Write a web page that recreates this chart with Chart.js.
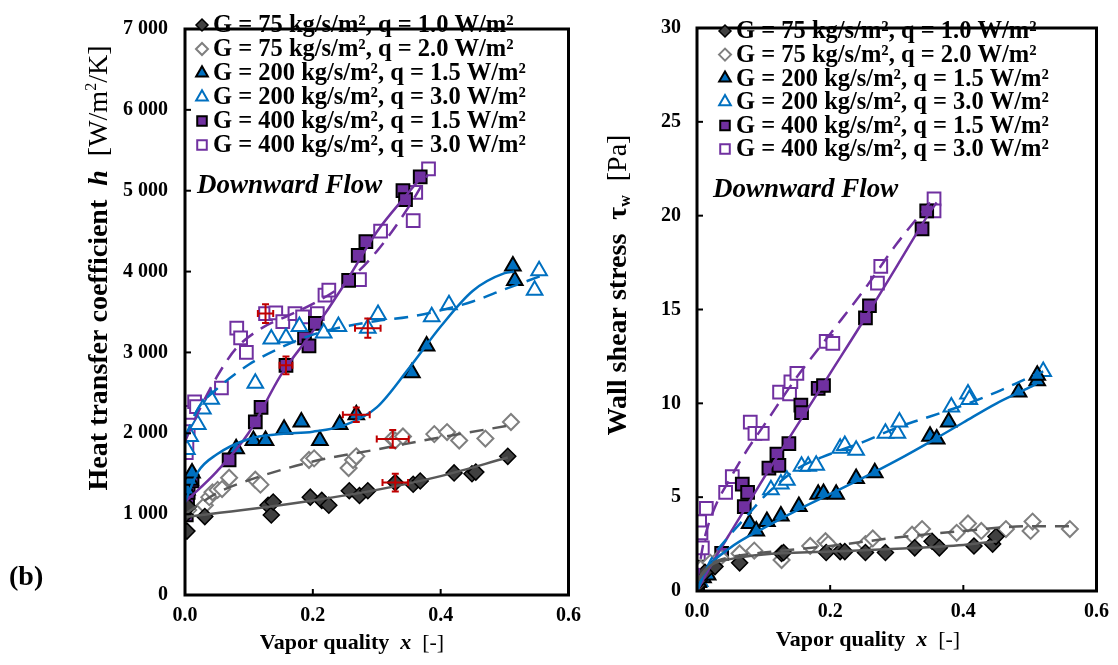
<!DOCTYPE html>
<html>
<head>
<meta charset="utf-8">
<script src="https://cdn.jsdelivr.net/npm/chart.js@4/dist/chart.umd.min.js"></script>
<style>
  html, body { margin: 0; padding: 0; background: #fff; }
  #wrap { position: relative; width: 1118px; height: 665px; overflow: hidden; }
  #hChart { position: absolute; left: 0; top: 0; }
  #tChart { position: absolute; left: 590px; top: 0; }
</style>
</head>
<body>
<div id="wrap">
  <canvas id="hChart" width="590" height="665"></canvas>
  <canvas id="tChart" width="528" height="665"></canvas>
</div>
<script>
// ---------- Series labels ----------
const seriesLabels = [
  'G = 75 kg/s/m², q = 1.0 W/m²',
  'G = 75 kg/s/m², q = 2.0 W/m²',
  'G = 200 kg/s/m², q = 1.5 W/m²',
  'G = 200 kg/s/m², q = 3.0 W/m²',
  'G = 400 kg/s/m², q = 1.5 W/m²',
  'G = 400 kg/s/m², q = 3.0 W/m²'
];

// ---------- Axis ticks ----------
const xTicks = [0, 0.2, 0.4, 0.6];
const hTicks = [0, 1000, 2000, 3000, 4000, 5000, 6000, 7000];
const tauTicks = [0, 5, 10, 15, 20, 25, 30];

// ---------- Heat transfer coefficient h [W/m²/K] vs vapor quality x ----------
const hX_75_10 = [0.000, 0.003, 0.005, 0.031, 0.130, 0.135, 0.138, 0.196, 0.214, 0.225, 0.257, 0.273, 0.286, 0.329, 0.357, 0.368, 0.421, 0.449, 0.455, 0.505];
const hY_75_10 = [990, 790, 1090, 970, 1110, 990, 1150, 1210, 1170, 1110, 1290, 1230, 1290, 1390, 1370, 1410, 1510, 1500, 1520, 1715];

const hX_75_20 = [0.005, 0.031, 0.038, 0.043, 0.051, 0.058, 0.069, 0.110, 0.118, 0.194, 0.202, 0.256, 0.263, 0.268, 0.325, 0.329, 0.341, 0.390, 0.410, 0.429, 0.470, 0.510];
const hY_75_20 = [1050, 1110, 1210, 1270, 1300, 1310, 1450, 1425, 1365, 1670, 1690, 1570, 1670, 1715, 1930, 1910, 1960, 1990, 2015, 1910, 1935, 2140];

const hX_200_15 = [0.003, 0.008, 0.011, 0.080, 0.107, 0.126, 0.155, 0.182, 0.211, 0.242, 0.268, 0.355, 0.378, 0.513, 0.516];
const hY_200_15 = [1300, 1420, 1510, 1810, 1910, 1910, 2050, 2140, 1910, 2110, 2230, 2750, 3080, 4070, 3890];

const hX_200_30 = [0.003, 0.008, 0.020, 0.028, 0.041, 0.110, 0.135, 0.158, 0.179, 0.217, 0.240, 0.286, 0.302, 0.386, 0.413, 0.547, 0.554];
const hY_200_30 = [1800, 1960, 2110, 2300, 2420, 2620, 3165, 3180, 3320, 3240, 3320, 3300, 3470, 3440, 3590, 3770, 4010];

const hX_400_15 = [0.002, 0.003, 0.004, 0.005, 0.011, 0.069, 0.110, 0.119, 0.158, 0.187, 0.194, 0.204, 0.256, 0.271, 0.283, 0.341, 0.345, 0.368];
const hY_400_15 = [990, 1110, 1200, 1270, 1410, 1670, 2140, 2320, 2840, 3180, 3080, 3360, 3890, 4200, 4370, 5000, 4890, 5170];

const hX_400_30 = [0.002, 0.003, 0.005, 0.008, 0.015, 0.018, 0.057, 0.081, 0.087, 0.096, 0.126, 0.142, 0.153, 0.172, 0.184, 0.207, 0.219, 0.225, 0.273, 0.306, 0.357, 0.361, 0.381];
const hY_400_30 = [1760, 1850, 2020, 2260, 2390, 2330, 2560, 3300, 3180, 3000, 3480, 3490, 3380, 3480, 3440, 3480, 3710, 3770, 3900, 4500, 4630, 4980, 5270];

// Trend curves for h
const hFitX_75_10 = [0, 0.1, 0.2, 0.3, 0.4, 0.505];
const hFitY_75_10 = [966, 1060, 1170, 1300, 1470, 1700];
const hFitX_75_20 = [0, 0.05, 0.1, 0.2, 0.3, 0.4, 0.51];
const hFitY_75_20 = [1000, 1260, 1420, 1650, 1800, 1950, 2100];
const hFitX_200_15 = [0, 0.02, 0.05, 0.1, 0.15, 0.2, 0.25, 0.3, 0.35, 0.4, 0.45, 0.5, 0.515];
const hFitY_200_15 = [1150, 1520, 1740, 1930, 1990, 2020, 2100, 2320, 2800, 3320, 3760, 3980, 4000];
const hFitX_200_30 = [0, 0.02, 0.05, 0.1, 0.15, 0.2, 0.25, 0.3, 0.35, 0.4, 0.45, 0.5, 0.555];
const hFitY_200_30 = [1950, 2300, 2550, 2850, 3060, 3220, 3320, 3390, 3440, 3520, 3630, 3780, 3940];
const hFitX_400_15 = [0, 0.05, 0.1, 0.15, 0.2, 0.25, 0.3, 0.35, 0.375];
const hFitY_400_15 = [1150, 1530, 2010, 2720, 3260, 3850, 4490, 4980, 5220];
const hFitX_400_30 = [0, 0.02, 0.05, 0.08, 0.12, 0.16, 0.2, 0.25, 0.3, 0.35, 0.38];
const hFitY_400_30 = [1900, 2250, 2700, 3050, 3300, 3450, 3600, 3850, 4250, 4800, 5200];

// Uncertainty bars on h: centre x, centre h, ±x, ±h
const hErrX = [0.126, 0.158, 0.268, 0.286, 0.325, 0.329];
const hErrY = [3480, 2840, 2230, 3300, 1930, 1390];
const hErrDX = [0.012, 0.010, 0.021, 0.020, 0.025, 0.020];
const hErrDY = [115, 110, 90, 120, 110, 110];

// ---------- Wall shear stress τw [Pa] vs vapor quality x ----------
const tX_75_10 = [0.001, 0.004, 0.012, 0.027, 0.064, 0.127, 0.130, 0.194, 0.215, 0.222, 0.253, 0.283, 0.327, 0.353, 0.364, 0.416, 0.444, 0.449];
const tY_75_10 = [0.3, 0.6, 1.0, 1.3, 1.5, 2.0, 2.05, 2.05, 2.1, 2.1, 2.05, 2.05, 2.3, 2.65, 2.3, 2.4, 2.5, 2.9];

const tX_75_20 = [0.006, 0.020, 0.035, 0.064, 0.086, 0.127, 0.170, 0.193, 0.197, 0.253, 0.264, 0.323, 0.338, 0.390, 0.407, 0.427, 0.464, 0.501, 0.504, 0.560];
const tY_75_20 = [1.2, 1.5, 1.8, 2.0, 2.15, 1.65, 2.4, 2.65, 2.5, 2.5, 2.8, 3.0, 3.3, 3.1, 3.6, 3.2, 3.3, 3.2, 3.7, 3.3];

const tX_200_15 = [0.002, 0.009, 0.016, 0.079, 0.089, 0.105, 0.126, 0.153, 0.182, 0.190, 0.209, 0.239, 0.267, 0.350, 0.360, 0.378, 0.483, 0.511, 0.511];
const tY_200_15 = [0.45, 0.7, 0.85, 3.6, 3.2, 3.7, 4.0, 4.5, 5.15, 5.2, 5.15, 6.0, 6.3, 8.25, 8.1, 9.0, 10.6, 11.2, 11.5];

const tX_200_30 = [0.000, 0.004, 0.011, 0.111, 0.126, 0.135, 0.157, 0.167, 0.179, 0.215, 0.222, 0.239, 0.283, 0.301, 0.304, 0.382, 0.407, 0.409, 0.520];
const tY_200_30 = [0.0, 0.5, 1.0, 5.4, 5.7, 5.9, 6.65, 6.65, 6.7, 7.6, 7.75, 7.5, 8.4, 8.4, 9.0, 9.8, 10.5, 10.2, 11.7];

const tX_400_15 = [0.001, 0.006, 0.009, 0.037, 0.068, 0.071, 0.076, 0.108, 0.120, 0.123, 0.138, 0.156, 0.157, 0.182, 0.190, 0.253, 0.259, 0.338, 0.345];
const tY_400_15 = [0.45, 1.27, 0.95, 2.0, 5.7, 4.5, 5.25, 6.55, 7.3, 6.7, 7.85, 9.9, 9.5, 10.8, 10.95, 14.55, 15.2, 19.3, 20.25];

const tX_400_30 = [0.002, 0.003, 0.004, 0.006, 0.008, 0.014, 0.043, 0.053, 0.080, 0.087, 0.098, 0.124, 0.139, 0.141, 0.150, 0.194, 0.204, 0.271, 0.276, 0.356, 0.356];
const tY_400_30 = [1.9, 2.7, 3.7, 3.1, 2.3, 4.4, 5.25, 6.1, 9.0, 8.4, 8.4, 10.6, 10.5, 11.15, 11.6, 13.3, 13.2, 16.4, 17.3, 20.9, 20.25];

// Trend curves for τw
const tFitX_75_10 = [0, 0.02, 0.05, 0.1, 0.2, 0.3, 0.4, 0.45];
const tFitY_75_10 = [0.5, 1.35, 1.7, 1.95, 2.1, 2.25, 2.45, 2.65];
const tFitX_75_20 = [0, 0.02, 0.05, 0.1, 0.2, 0.3, 0.4, 0.5, 0.56];
const tFitY_75_20 = [0.6, 1.4, 1.8, 2.05, 2.4, 2.85, 3.2, 3.45, 3.45];
const tFitX_200_15 = [0, 0.01, 0.05, 0.1, 0.15, 0.2, 0.25, 0.3, 0.35, 0.4, 0.45, 0.5, 0.51];
const tFitY_200_15 = [0, 0.9, 2.3, 3.35, 4.3, 5.17, 6.04, 6.96, 7.95, 8.98, 10.0, 10.86, 11.05];
const tFitX_200_30 = [0, 0.02, 0.05, 0.08, 0.1, 0.15, 0.2, 0.25, 0.3, 0.35, 0.4, 0.45, 0.5, 0.52];
const tFitY_200_30 = [0, 1.6, 3.0, 4.2, 5.0, 6.5, 7.3, 7.95, 8.7, 9.3, 9.9, 10.6, 11.4, 11.7];
const tFitX_400_15 = [0, 0.02, 0.05, 0.1, 0.15, 0.2, 0.25, 0.3, 0.35, 0.36];
const tFitY_400_15 = [0, 1.3, 3.1, 6.0, 8.8, 11.6, 14.4, 17.3, 20.2, 20.7];
const tFitX_400_30 = [0, 0.01, 0.025, 0.05, 0.075, 0.1, 0.15, 0.2, 0.25, 0.3, 0.35];
const tFitY_400_30 = [0.5, 2.6, 4.3, 6.0, 7.5, 8.8, 11.4, 13.7, 16.0, 18.5, 20.7];

// ---------- Styles ----------
const GRAY = '#595959', BLUE = '#0070C0', PURPLE = '#7030A0';
const SERIF = '"Liberation Serif", "Times New Roman", serif';

const markerStyles = [
  { pointStyle: 'rectRot',  radius: 8, fill: '#404040', stroke: '#000000', width: 1.5 },
  { pointStyle: 'rectRot',  radius: 8, fill: '#ffffff', stroke: '#7f7f7f', width: 2 },
  { pointStyle: 'triangle', radius: 9, fill: BLUE,      stroke: '#000000', width: 2 },
  { pointStyle: 'triangle', radius: 9, fill: '#ffffff', stroke: BLUE,      width: 2 },
  { pointStyle: 'rect',     radius: 9, fill: PURPLE,    stroke: '#000000', width: 2 },
  { pointStyle: 'rect',     radius: 9, fill: '#ffffff', stroke: PURPLE,    width: 2 }
];
const fitStyles = [
  { color: GRAY,   dash: [] },
  { color: GRAY,   dash: [14, 9] },
  { color: BLUE,   dash: [] },
  { color: BLUE,   dash: [14, 9] },
  { color: PURPLE, dash: [] },
  { color: PURPLE, dash: [14, 9] }
];

const zip = (xs, ys) => xs.map((x, i) => ({ x: x, y: ys[i] }));

function buildDatasets(points, fits) {
  const ds = [];
  fits.forEach((f, i) => {
    ds.push({
      label: seriesLabels[i] + ' (fit)',
      data: zip(f[0], f[1]),
      showLine: true,
      pointRadius: 0,
      borderColor: fitStyles[i].color,
      borderWidth: 2.5,
      borderDash: fitStyles[i].dash,
      cubicInterpolationMode: 'monotone',
      fill: false,
      order: 0
    });
  });
  points.forEach((p, i) => {
    const m = markerStyles[i];
    ds.push({
      label: seriesLabels[i],
      data: zip(p[0], p[1]),
      showLine: false,
      pointStyle: m.pointStyle,
      pointRadius: m.radius,
      pointBackgroundColor: m.fill,
      pointBorderColor: m.stroke,
      pointBorderWidth: m.width,
      order: 1
    });
  });
  return ds;
}

// Rich text: list of [text, font, baseline shift]
function drawRich(ctx, segs, cx, cy, rotate) {
  ctx.save();
  ctx.translate(cx, cy);
  if (rotate) ctx.rotate(-Math.PI / 2);
  let total = 0;
  segs.forEach(s => { ctx.font = s[1]; total += ctx.measureText(s[0]).width; });
  let x = -total / 2;
  ctx.fillStyle = '#000';
  ctx.textBaseline = 'middle';
  ctx.textAlign = 'left';
  segs.forEach(s => {
    ctx.font = s[1];
    ctx.fillText(s[0], x, s[2] || 0);
    x += ctx.measureText(s[0]).width;
  });
  ctx.restore();
}

function decorPlugin(opt) {
  return {
    id: 'decor',
    afterDatasetsDraw(chart) {
      const ctx = chart.ctx;
      const a = chart.chartArea;
      const xs = chart.scales.x, ys = chart.scales.y;
      ctx.save();
      // inward tick marks
      ctx.strokeStyle = '#000';
      ctx.lineWidth = 2;
      xTicks.forEach(v => {
        const px = xs.getPixelForValue(v);
        ctx.beginPath(); ctx.moveTo(px, a.bottom); ctx.lineTo(px, a.bottom - 6); ctx.stroke();
      });
      opt.yTicks.forEach(v => {
        const py = ys.getPixelForValue(v);
        ctx.beginPath(); ctx.moveTo(a.left, py); ctx.lineTo(a.left + 6, py); ctx.stroke();
      });
      // uncertainty bars
      if (opt.err) {
        const e = opt.err;
        ctx.strokeStyle = '#C00000';
        ctx.lineWidth = 2;
        e.x.forEach((xv, i) => {
          const cx = xs.getPixelForValue(xv), cy = ys.getPixelForValue(e.y[i]);
          const x0 = xs.getPixelForValue(xv - e.dx[i]), x1 = xs.getPixelForValue(xv + e.dx[i]);
          const y0 = ys.getPixelForValue(e.y[i] - e.dy[i]), y1 = ys.getPixelForValue(e.y[i] + e.dy[i]);
          ctx.beginPath();
          ctx.moveTo(x0, cy); ctx.lineTo(x1, cy);
          ctx.moveTo(x0, cy - 3.5); ctx.lineTo(x0, cy + 3.5);
          ctx.moveTo(x1, cy - 3.5); ctx.lineTo(x1, cy + 3.5);
          ctx.moveTo(cx, y0); ctx.lineTo(cx, y1);
          ctx.moveTo(cx - 3.5, y0); ctx.lineTo(cx + 3.5, y0);
          ctx.moveTo(cx - 3.5, y1); ctx.lineTo(cx + 3.5, y1);
          ctx.stroke();
        });
      }
      // plot frame
      ctx.strokeStyle = '#000';
      ctx.lineWidth = 3;
      ctx.strokeRect(a.left, a.top, a.right - a.left, a.bottom - a.top);
      // legend
      seriesLabels.forEach((lab, i) => {
        const y = opt.legend.y0 + i * opt.legend.dy;
        const m = markerStyles[i];
        ctx.fillStyle = m.fill;
        ctx.strokeStyle = m.stroke;
        ctx.lineWidth = m.width;
        Chart.helpers.drawPoint(ctx, { pointStyle: m.pointStyle, radius: m.radius * 0.75, borderWidth: m.width, rotation: 0 }, opt.legend.mx, y);
        ctx.fillStyle = '#000';
        ctx.font = 'bold 24.5px ' + SERIF;
        ctx.textBaseline = 'middle';
        ctx.textAlign = 'left';
        ctx.fillText(lab, opt.legend.tx, y + 1);
      });
      // flow direction note
      ctx.font = 'italic bold 27px ' + SERIF;
      ctx.fillStyle = '#000';
      ctx.textBaseline = 'middle';
      ctx.fillText('Downward Flow', opt.note.x, opt.note.y);
      ctx.restore();
    },
    afterDraw(chart) {
      const ctx = chart.ctx;
      drawRich(ctx, opt.xTitle, opt.xTitlePos[0], opt.xTitlePos[1], false);
      drawRich(ctx, opt.yTitle, opt.yTitlePos[0], opt.yTitlePos[1], true);
      if (opt.extra) opt.extra(ctx);
    }
  };
}

function baseOptions(o) {
  const tickFont = { family: SERIF, weight: 'bold', size: 20 };
  return {
    responsive: false,
    animation: false,
    devicePixelRatio: 1,
    events: [],
    layout: { padding: { left: 0, right: o.right, top: o.top, bottom: 0 } },
    plugins: { legend: { display: false }, tooltip: { enabled: false } },
    scales: {
      x: {
        type: 'linear', min: 0, max: 0.6,
        afterBuildTicks: s => { s.ticks = xTicks.map(v => ({ value: v })); },
        ticks: { font: tickFont, color: '#000', padding: 9, maxRotation: 0, callback: v => v.toFixed(1) },
        grid: { display: false, drawTicks: false },
        border: { display: false },
        afterFit: s => { s.height = o.bottomH; }
      },
      y: {
        type: 'linear', min: 0, max: o.ymax,
        afterBuildTicks: s => { s.ticks = o.yTicks.map(v => ({ value: v })); },
        ticks: { font: tickFont, color: '#000', padding: o.yPad, callback: o.yFmt },
        grid: { display: false, drawTicks: false },
        border: { display: false },
        afterFit: s => { s.width = o.leftW; }
      }
    }
  };
}

const YB = 'bold 28px ' + SERIF, YBI = 'italic bold 28px ' + SERIF, YR = '28px ' + SERIF;
const XB = 'bold 22px ' + SERIF, XBI = 'italic bold 22px ' + SERIF, XR = '22px ' + SERIF;

// ---------- Left chart: heat transfer coefficient ----------
new Chart(document.getElementById('hChart'), {
  type: 'scatter',
  data: {
    datasets: buildDatasets(
      [[hX_75_10, hY_75_10], [hX_75_20, hY_75_20], [hX_200_15, hY_200_15], [hX_200_30, hY_200_30], [hX_400_15, hY_400_15], [hX_400_30, hY_400_30]],
      [[hFitX_75_10, hFitY_75_10], [hFitX_75_20, hFitY_75_20], [hFitX_200_15, hFitY_200_15], [hFitX_200_30, hFitY_200_30], [hFitX_400_15, hFitY_400_15], [hFitX_400_30, hFitY_400_30]]
    )
  },
  options: baseOptions({
    right: 13, top: 15, bottomH: 70, leftW: 185, ymax: 7000, yTicks: hTicks, yPad: 17,
    yFmt: v => v === 0 ? '0' : (v / 1000) + ' 000'
  }),
  plugins: [decorPlugin({
    yTicks: hTicks,
    err: { x: hErrX, y: hErrY, dx: hErrDX, dy: hErrDY },
    legend: { mx: 202, tx: 213, y0: 25, dy: 24 },
    note: { x: 197, y: 186 },
    xTitle: [['Vapor quality  ', XB], ['x', XBI], ['  [-]', XR]],
    xTitlePos: [352, 643],
    yTitle: [['Heat transfer coefficient  ', YB], ['h', YBI], ['  [W/m', YR], ['2', '16px ' + SERIF, -8], ['/K]', YR]],
    yTitlePos: [100, 268],
    extra: ctx => {
      ctx.save();
      ctx.font = 'bold 28px ' + SERIF;
      ctx.fillStyle = '#000';
      ctx.textBaseline = 'middle';
      ctx.textAlign = 'left';
      ctx.fillText('(b)', 9, 578);
      ctx.restore();
    }
  })]
});

// ---------- Right chart: wall shear stress ----------
new Chart(document.getElementById('tChart'), {
  type: 'scatter',
  data: {
    datasets: buildDatasets(
      [[tX_75_10, tY_75_10], [tX_75_20, tY_75_20], [tX_200_15, tY_200_15], [tX_200_30, tY_200_30], [tX_400_15, tY_400_15], [tX_400_30, tY_400_30]],
      [[tFitX_75_10, tFitY_75_10], [tFitX_75_20, tFitY_75_20], [tFitX_200_15, tFitY_200_15], [tFitX_200_30, tFitY_200_30], [tFitX_400_15, tFitY_400_15], [tFitX_400_30, tFitY_400_30]]
    )
  },
  options: baseOptions({
    right: 16, top: 12, bottomH: 74, leftW: 107, ymax: 30, yTicks: tauTicks, yPad: 16,
    yFmt: v => String(v)
  }),
  plugins: [decorPlugin({
    yTicks: tauTicks,
    legend: { mx: 135, tx: 146, y0: 31, dy: 23.6 },
    note: { x: 123, y: 190 },
    xTitle: [['Vapor quality  ', XB], ['x', XBI], ['  [-]', XR]],
    xTitlePos: [278, 640],
    yTitle: [['Wall shear stress  ', YB], ['τ', YB], ['w', 'bold 16px ' + SERIF, 7], ['  [Pa]', YR]],
    yTitlePos: [29, 285]
  })]
});
</script>
</body>
</html>
